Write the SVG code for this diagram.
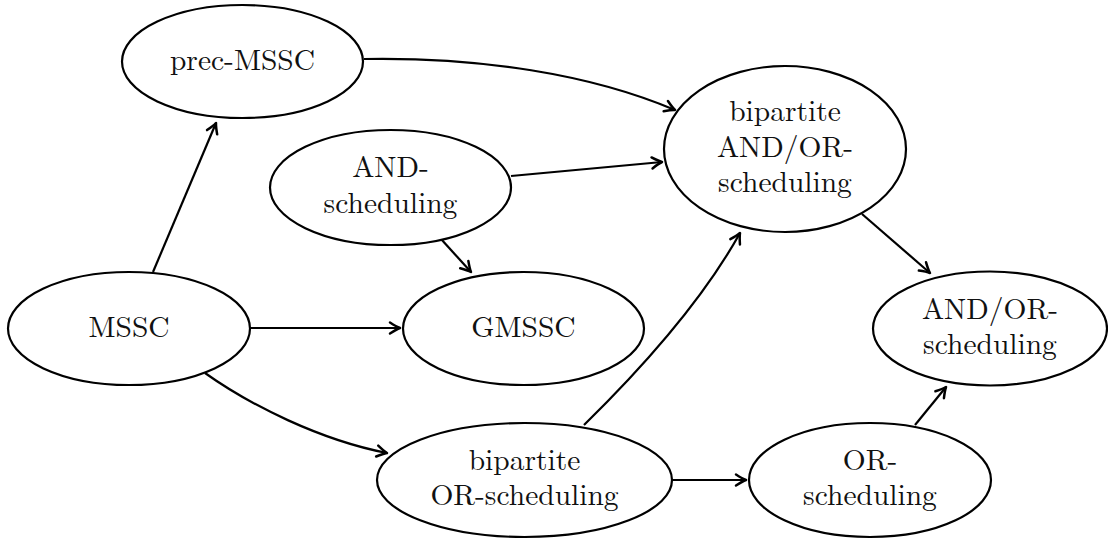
<svg xmlns="http://www.w3.org/2000/svg" width="1108" height="540" viewBox="0 0 1108 540">
  <defs>
    <style>
      .node ellipse { fill: #fff; stroke: #000; stroke-width: 2.2; }
      .node text { font-size: 29.5px; fill: #111; text-anchor: middle; }
      .edges path { fill: none; stroke: #000; stroke-width: 2.2; marker-end: url(#tip); }
    </style>
    <!-- open curved arrowhead -->
    <marker id="tip" viewBox="-14 -8 16 16" markerWidth="16" markerHeight="16" refX="0" refY="0" orient="auto" markerUnits="userSpaceOnUse">
      <path d="M -10,-5.5 Q -3.5,-1.3 0,0 Q -3.5,1.3 -10,5.5" fill="none" stroke="#000" stroke-width="2.5" stroke-linecap="round" stroke-linejoin="round"/>
    </marker>
  </defs>

  <rect width="1108" height="540" fill="#fff"/>

  <g class="edges">
    <path d="M 153,272 L 216,123"/>
    <path d="M 364,59 C 480,57 590,74 675,110"/>
    <path d="M 511,176 L 662,162"/>
    <path d="M 441,239 L 471,272"/>
    <path d="M 250,328 L 400,328"/>
    <path d="M 205,373 C 250,405 320,440 387,453"/>
    <path d="M 584,425 C 635,375 700,305 740,233"/>
    <path d="M 862,214 L 930,273"/>
    <path d="M 672,480 L 746,480"/>
    <path d="M 915,425 L 946,387"/>
  </g>

  <g font-family="Latin Modern Roman, Liberation Serif, serif">
    <g id="prec-mssc" class="node">
      <ellipse cx="242.5" cy="61.5" rx="120.5" ry="56.5"/>
      <text x="242.5" y="70">prec-MSSC</text>
    </g>

    <g id="and-scheduling" class="node">
      <ellipse cx="390.5" cy="187.5" rx="120.5" ry="57.5"/>
      <text x="390.5" y="177">AND-</text>
      <text x="390.5" y="213">scheduling</text>
    </g>

    <g id="mssc" class="node">
      <ellipse cx="129" cy="328.5" rx="121" ry="56.5"/>
      <text x="129" y="337">MSSC</text>
    </g>

    <g id="gmssc" class="node">
      <ellipse cx="523.5" cy="328.5" rx="120.5" ry="56.5"/>
      <text x="523.5" y="337">GMSSC</text>
    </g>

    <g id="bipartite-and-or-scheduling" class="node">
      <ellipse cx="785" cy="149" rx="121" ry="83"/>
      <text x="785" y="121">bipartite</text>
      <text x="785" y="157">AND/OR-</text>
      <text x="785" y="192">scheduling</text>
    </g>

    <g id="and-or-scheduling" class="node">
      <ellipse cx="990" cy="328.5" rx="117" ry="57"/>
      <text x="990" y="319">AND/OR-</text>
      <text x="990" y="354">scheduling</text>
    </g>

    <g id="bipartite-or-scheduling" class="node">
      <ellipse cx="524.5" cy="480" rx="147.5" ry="57"/>
      <text x="524.5" y="470">bipartite</text>
      <text x="524.5" y="505">OR-scheduling</text>
    </g>

    <g id="or-scheduling" class="node">
      <ellipse cx="870" cy="480" rx="121" ry="57"/>
      <text x="870" y="470">OR-</text>
      <text x="870" y="505">scheduling</text>
    </g>
  </g>
</svg>
